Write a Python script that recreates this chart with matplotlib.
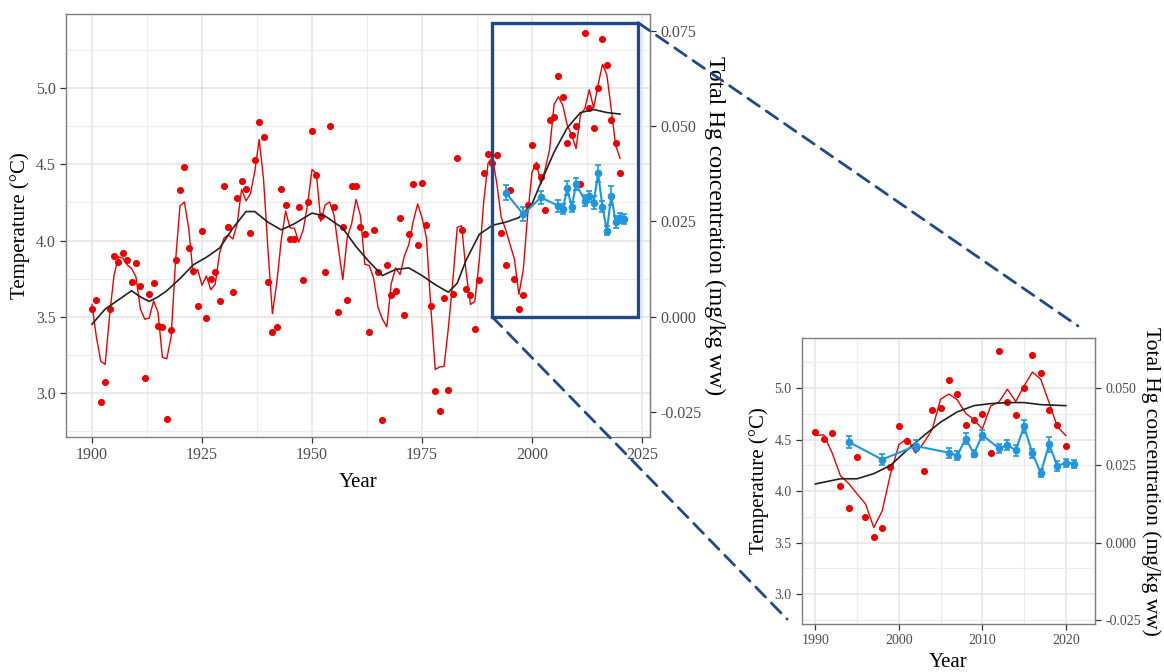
import matplotlib
matplotlib.use("Agg")
import matplotlib.pyplot as plt
import numpy as np
import pandas as pd
from matplotlib.patches import Rectangle, ConnectionPatch
from matplotlib.ticker import MultipleLocator, FixedLocator, FuncFormatter

plt.rcParams['font.family'] = ['Liberation Serif', 'DejaVu Serif']
plt.rcParams['axes.unicode_minus'] = False

# annual mean water temperature (red points), 1900-2020
years = np.arange(1900, 2021)
temp = [3.55, 3.61, 2.94, 3.07, 3.55, 3.90, 3.86, 3.92, 3.87, 3.73,
        3.85, 3.70, 3.10, 3.65, 3.72, 3.44, 3.43, 2.83, 3.41, 3.87,
        4.33, 4.48, 3.95, 3.80, 3.57, 4.06, 3.49, 3.75, 3.79, 3.60,
        4.36, 4.09, 3.66, 4.28, 4.39, 4.34, 4.05, 4.53, 4.78, 4.68,
        3.73, 3.40, 3.43, 4.34, 4.23, 4.01, 4.01, 4.22, 3.74, 4.25,
        4.72, 4.43, 4.16, 3.79, 4.75, 4.22, 3.53, 4.09, 3.61, 4.36,
        4.36, 4.09, 4.04, 3.40, 4.07, 3.79, 2.82, 3.84, 3.64, 3.67,
        4.15, 3.51, 4.04, 4.37, 3.97, 4.38, 4.10, 3.57, 3.01, 2.88,
        3.62, 3.02, 3.65, 4.54, 4.07, 3.68, 3.64, 3.42, 3.74, 4.44,
        4.57, 4.51, 4.56, 4.05, 3.84, 4.33, 3.75, 3.55, 3.64, 4.23,
        4.63, 4.49, 4.42, 4.20, 4.79, 4.81, 5.08, 4.94, 4.64, 4.69,
        4.75, 4.37, 5.36, 4.87, 4.74, 5.00, 5.32, 5.15, 4.79, 4.64,
        4.44]

# long-term smooth (black line)
smooth_years = [1900, 1903, 1906, 1909, 1911, 1913, 1915, 1917, 1920, 1923,
                1926, 1929, 1932, 1935, 1937, 1940, 1943, 1946, 1950, 1953,
                1957, 1960, 1963, 1966, 1969, 1972, 1975, 1978, 1981, 1983,
                1985, 1988, 1991, 1994, 1997, 2000, 2002, 2005, 2008, 2011,
                2014, 2017, 2020]
smooth_temp = [3.45, 3.55, 3.61, 3.67, 3.63, 3.60, 3.63, 3.67, 3.75, 3.84,
               3.89, 3.95, 4.08, 4.19, 4.19, 4.12, 4.07, 4.11, 4.18, 4.16,
               4.08, 3.96, 3.86, 3.77, 3.81, 3.82, 3.77, 3.71, 3.66, 3.72,
               3.87, 4.04, 4.10, 4.12, 4.15, 4.24, 4.38, 4.58, 4.74, 4.84,
               4.86, 4.84, 4.83]

# smooth of the 1990-2020 subset (inset)
smooth_years_in = [1990, 1993, 1995, 1997, 1999, 2001, 2003, 2005, 2007, 2009,
                   2011, 2013, 2015, 2017, 2020]
smooth_temp_in = [4.07, 4.12, 4.12, 4.17, 4.25, 4.40, 4.54, 4.67, 4.77, 4.83,
                  4.85, 4.86, 4.86, 4.84, 4.83]

# total Hg concentration (blue), mg/kg ww
hg_years = [1994, 1998, 2002, 2006, 2007, 2008, 2009, 2010, 2012, 2013,
            2014, 2015, 2016, 2017, 2018, 2019, 2020, 2021]
hg_mean = [0.0326, 0.0269, 0.0313, 0.0291, 0.0282, 0.0337, 0.0288, 0.0348, 0.0305, 0.0316,
           0.0299, 0.0376, 0.0289, 0.0226, 0.0318, 0.0248, 0.0259, 0.0256]
hg_err = [0.0020, 0.0018, 0.0018, 0.0016, 0.0013, 0.0018, 0.0012, 0.0016, 0.0015, 0.0015,
          0.0017, 0.0022, 0.0014, 0.0012, 0.0024, 0.0016, 0.0013, 0.0013]

hg_ticks = [-0.025, 0.0, 0.025, 0.050, 0.075]
zoom_years = (1990.9, 2024.1)
zoom_temp = (3.5, 5.43)

RED = '#ee0000'
BLUE = '#1e96e0'
NAVY = '#1d4a8c'

df = pd.DataFrame({'year': years, 'temp': temp})


def style_panel(a, fs):
    for s in a.spines.values():
        s.set_color('#7f7f7f')
        s.set_linewidth(1.0)
    a.grid(True, which='major', color='#e4e4e4', lw=1.1)
    a.grid(True, which='minor', color='#ececec', lw=0.8)
    a.set_axisbelow(True)
    a.tick_params(which='major', length=4, color='#333333', labelcolor='#4d4d4d',
                  labelsize=fs, width=0.9)
    a.tick_params(which='minor', length=0)
    a.yaxis.set_major_locator(MultipleLocator(0.5))
    a.yaxis.set_minor_locator(MultipleLocator(0.25))
    a.yaxis.set_major_formatter(FuncFormatter(lambda v, p: f'{v:.1f}'))
    a.set_ylim(2.71, 5.487)


def draw_panel(a, d, sy, st, scale, fs, rfs, rpad, xpad):
    roll = d['temp'].rolling(3, center=True, min_periods=1).mean()
    a.scatter(d['year'], d['temp'], s=26, color=RED, zorder=3, linewidths=0)
    a.plot(d['year'], roll, color=RED, lw=1.0, zorder=3)
    a.plot(sy, st, color='#222222', lw=1.2, zorder=4)
    a.errorbar(hg_years, 3.5 + scale * np.array(hg_mean), yerr=scale * np.array(hg_err),
               fmt='-o', color=BLUE, ms=4.5, lw=1.5, elinewidth=1.2, capsize=2.5,
               capthick=1.2, zorder=5)
    sec = a.secondary_yaxis('right', functions=(lambda t: (t - 3.5) / scale,
                                                lambda h: 3.5 + scale * h))
    sec.yaxis.set_major_locator(FixedLocator(hg_ticks))
    sec.yaxis.set_major_formatter(FuncFormatter(lambda v, p: f'{v:.3f}'))
    sec.tick_params(length=4, color='#333333', labelcolor='#4d4d4d', labelsize=fs, width=0.9)
    sec.spines['right'].set_color('#7f7f7f')
    sec.set_ylabel('Total Hg concentration (mg/kg ww)', fontsize=rfs, rotation=270,
                   labelpad=rpad)
    a.set_xlabel('Year', fontsize=15, labelpad=xpad)
    a.set_ylabel('Temperature (\u00b0C)', fontsize=15, labelpad=4)


fig = plt.figure(figsize=(11.64, 6.72), dpi=100)
ax = fig.add_axes([66 / 1164, 1 - 437 / 672, 584 / 1164, 423 / 672])
ax_in = fig.add_axes([802 / 1164, 1 - 624 / 672, 293 / 1164, 286 / 672])

# main panel
style_panel(ax, 11.5)
ax.xaxis.set_major_locator(MultipleLocator(25))
ax.xaxis.set_minor_locator(MultipleLocator(12.5))
ax.set_xlim(1894.1, 2026.8)
draw_panel(ax, df, smooth_years, smooth_temp, 25, 11.5, 17, 17, 7)

# inset panel
style_panel(ax_in, 10)
ax_in.xaxis.set_major_locator(MultipleLocator(10))
ax_in.xaxis.set_minor_locator(MultipleLocator(5))
ax_in.set_xlim(1988.4, 2023.5)
draw_panel(ax_in, df[df['year'] >= 1990], smooth_years_in, smooth_temp_in, 30, 10,
           15.5, 14, 4)

# zoom box and connector lines
ax.add_patch(Rectangle((zoom_years[0], zoom_temp[0]), zoom_years[1] - zoom_years[0],
                       zoom_temp[1] - zoom_temp[0], fill=False, ec=NAVY, lw=2.4,
                       zorder=6, clip_on=False))
for xa, xb in [((zoom_years[1], zoom_temp[1]), (0.942, 1.042)),
               ((zoom_years[0], zoom_temp[0]), (-0.051, 0.017))]:
    con = ConnectionPatch(xyA=xa, coordsA=ax.transData, xyB=xb, coordsB=ax_in.transAxes,
                          color=NAVY, lw=2.0, linestyle=(0, (5, 3)), zorder=7)
    fig.add_artist(con)

fig.savefig('out.png', dpi=100, facecolor='white')
